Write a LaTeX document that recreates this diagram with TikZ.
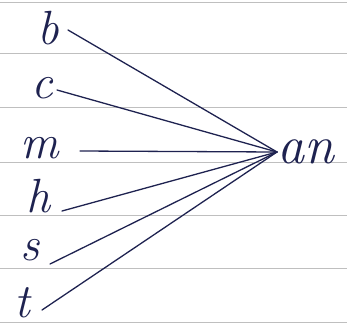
\documentclass[tikz,border=0pt]{standalone}
\usepackage{tikz}
\begin{document}
\begin{tikzpicture}[x=1pt,y=-1pt,
  ink/.style={draw=inkc,line width=1.3pt,line cap=round},
  letter/.style={text=inkc,inner sep=0pt,font=\fontsize{48}{48}\selectfont\itshape},
  rule/.style={draw=black!25,line width=0.9pt}]
\definecolor{inkc}{HTML}{1E2250}
\useasboundingbox (0,0) rectangle (347,327);
\foreach \yy in {2,53,107,162,215,268,322}{
  \draw[rule] (0,\yy) -- (347,\yy);
}
\node[letter] (b) at (48,28) {b};
\node[letter] (c) at (42,88) {c};
\node[letter] (m) at (40,148) {m};
\node[letter] (h) at (38,196) {h};
\node[letter] (s) at (30,250) {s};
\node[letter] (t) at (22,303) {t};
\node[letter,anchor=west,font=\fontsize{54}{54}\selectfont\itshape] (an) at (277,152) {an};
\draw[ink] ([shift={(20,2)}]b.center) -- (an.west);
\draw[ink] ([shift={(15,2)}]c.center) -- (an.west);
\draw[ink] ([shift={(40,3)}]m.center) -- (an.west);
\draw[ink] ([shift={(24,15)}]h.center) -- (an.west);
\draw[ink] ([shift={(20,14)}]s.center) -- (an.west);
\draw[ink] ([shift={(20,7)}]t.center) -- (an.west);
\end{tikzpicture}
\end{document}
